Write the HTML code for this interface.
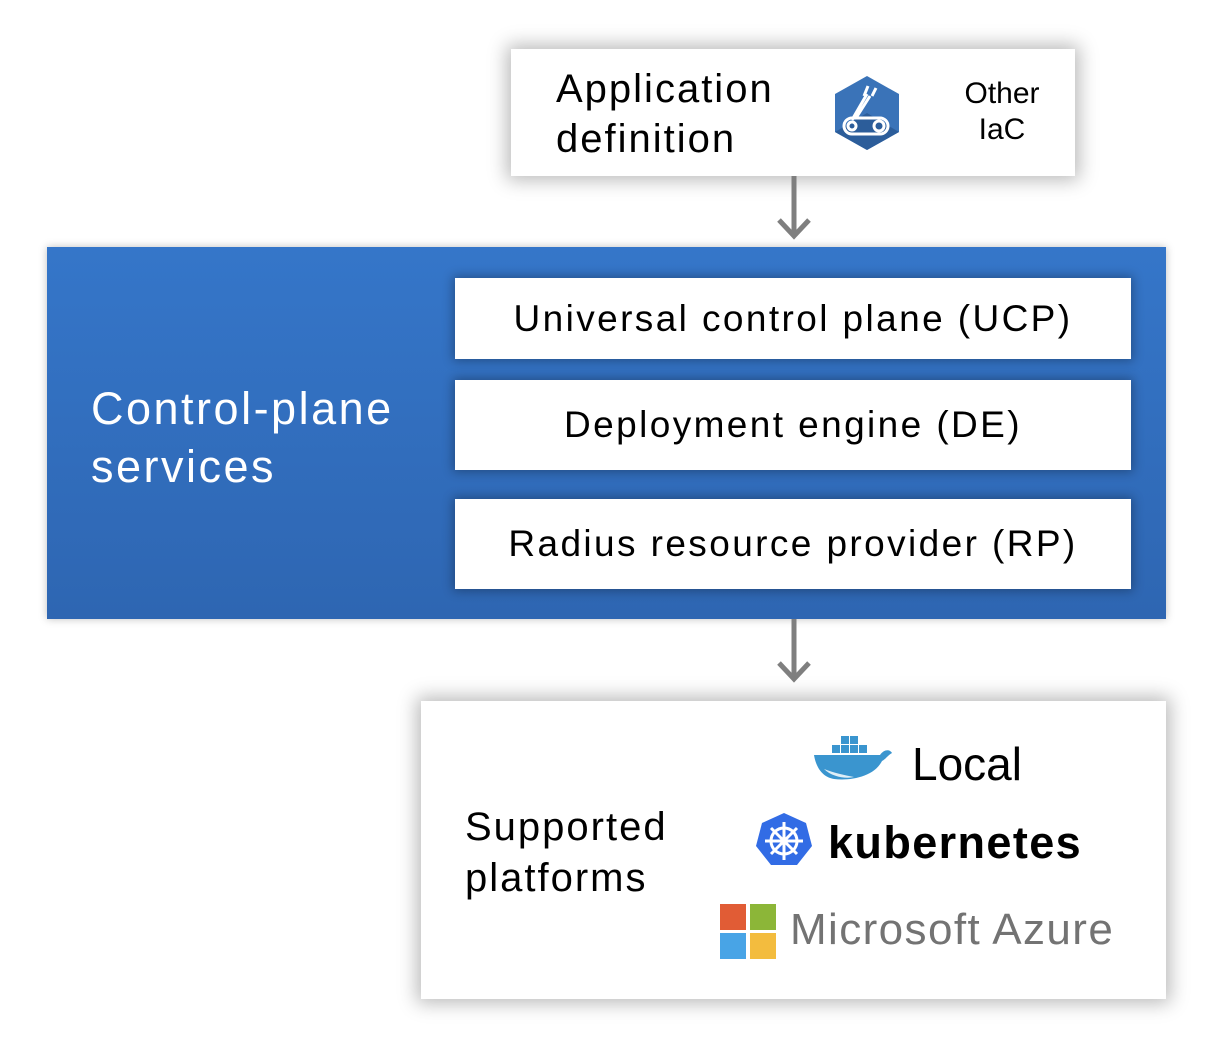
<!DOCTYPE html>
<html><head><meta charset="utf-8"><style>
body{margin:0;width:1216px;height:1046px;background:#fff;position:relative;overflow:hidden;font-family:"Liberation Sans",sans-serif}
.a{position:absolute}
.box{background:#fff;box-shadow:0 0 18px 4px rgba(0,0,0,0.28)}
.in{background:#fff;box-shadow:0 0 10px 2px rgba(0,0,0,0.3);display:flex;align-items:center;justify-content:center;font-size:37px;color:#000;letter-spacing:2.4px}
</style></head><body>
<div class="a box" style="left:511px;top:49px;width:564px;height:127px"></div>
<div class="a" style="left:556px;top:64px;font-size:40px;line-height:50px;color:#000;letter-spacing:2px">Application<br>definition</div>
<svg class="a" style="left:832px;top:74px" width="70" height="78" viewBox="0 0 70 78">
<polygon points="35,2 67,20 67,58 35,76 3,58 3,20" fill="#3a73b8"/>
<polygon points="35,39 67,58 35,76 3,58" fill="#2c5d9a"/>
<g stroke="#fff" stroke-width="3" fill="none"><rect x="12" y="44" width="44" height="16" rx="8"/><circle cx="20" cy="52" r="4"/><circle cx="47" cy="52" r="5"/><path d="M20 46 L35 20 M24 44 L38 22"/><path d="M32 22 L36 12 M40 22 L44 14"/></g>
</svg>
<div class="a" style="left:950px;top:76px;width:104px;text-align:center;font-size:30px;line-height:36px;color:#000">Other<br>IaC</div>
<svg class="a" style="left:774px;top:176px" width="40" height="66"><path d="M20 0V60M5 44L20 60L35 44" stroke="#7f7f7f" stroke-width="5" fill="none"/></svg>
<div class="a" style="left:47px;top:247px;width:1119px;height:372px;background:linear-gradient(#3576c9,#2e66b2);box-shadow:0 0 8px rgba(0,0,0,0.25)"></div>
<div class="a" style="left:91px;top:380px;font-size:45px;line-height:58px;color:#fff;letter-spacing:2.5px">Control-plane<br>services</div>
<div class="a in" style="left:455px;top:278px;width:676px;height:81px">Universal control plane (UCP)</div>
<div class="a in" style="left:455px;top:380px;width:676px;height:90px">Deployment engine (DE)</div>
<div class="a in" style="left:455px;top:499px;width:676px;height:90px">Radius resource provider (RP)</div>
<svg class="a" style="left:774px;top:619px" width="40" height="66"><path d="M20 0V60M5 44L20 60L35 44" stroke="#7f7f7f" stroke-width="5" fill="none"/></svg>
<div class="a box" style="left:421px;top:701px;width:745px;height:298px"></div>
<div class="a" style="left:465px;top:802px;font-size:40px;line-height:51px;color:#000;letter-spacing:2px">Supported<br>platforms</div>
<svg class="a" style="left:810px;top:735px" width="84" height="48" viewBox="0 0 84 48">
<path d="M4 20 H70 C74 14 80 14 82 18 C78 20 76 24 72 26 C64 42 40 46 24 44 C12 42 6 32 4 20Z" fill="#3a95cf"/>
<path d="M14 34 C22 42 36 44 44 42 C34 40 24 38 14 34Z" fill="#dfeef7"/>
<g fill="#3a95cf"><rect x="22" y="10" width="8" height="8"/><rect x="31" y="10" width="8" height="8"/><rect x="40" y="10" width="8" height="8"/><rect x="31" y="1" width="8" height="8"/><rect x="49" y="10" width="8" height="8"/><rect x="40" y="1" width="8" height="8"/></g>
</svg>
<div class="a" style="left:912px;top:736px;font-size:46px;line-height:56px;color:#000">Local</div>
<svg class="a" style="left:755px;top:812px" width="58" height="56" viewBox="0 0 58 56">
<polygon points="29,1 51,11 57,34 42,53 16,53 1,34 7,11" fill="#326ce5"/>
<g stroke="#fff" stroke-width="3" fill="none"><circle cx="29" cy="29" r="13"/><path d="M29 10V48M10 29H48M16 16L42 42M42 16L16 42"/></g>
<circle cx="29" cy="29" r="4" fill="#fff"/>
</svg>
<div class="a" style="left:828px;top:815px;font-size:45px;font-weight:bold;line-height:56px;color:#000;letter-spacing:1.4px">kubernetes</div>
<div class="a" style="left:720px;top:904px;width:26px;height:26px;background:#e15c35"></div>
<div class="a" style="left:750px;top:904px;width:26px;height:26px;background:#8cb638"></div>
<div class="a" style="left:720px;top:933px;width:26px;height:26px;background:#48a4e6"></div>
<div class="a" style="left:750px;top:933px;width:26px;height:26px;background:#f3bc3e"></div>
<div class="a" style="left:790px;top:902px;font-size:44px;line-height:56px;color:#737373;letter-spacing:1.4px">Microsoft Azure</div>
</body></html>
